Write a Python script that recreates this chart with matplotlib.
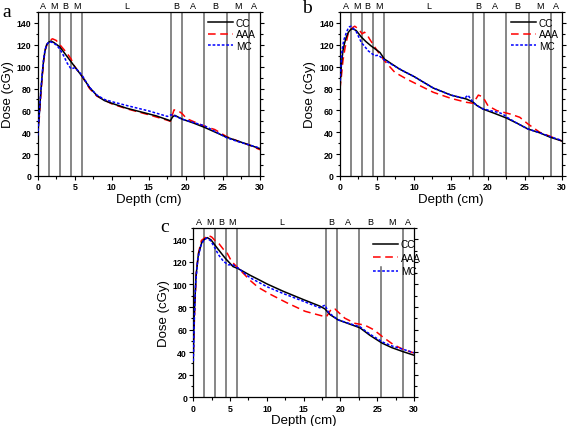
import matplotlib
matplotlib.use("Agg")
import matplotlib.pyplot as plt
from matplotlib.ticker import MultipleLocator
import matplotlib.transforms as mtransforms

# boundaries between the regions and their labels
boundaries = [1.5, 3.0, 4.5, 6.0, 18.0, 19.5, 22.5, 25.5, 28.5]
region_pos = [0.75, 2.25, 3.75, 5.25, 12.0, 18.75, 21.0, 24.0, 27.0, 29.25]
region_lab = ['A', 'M', 'B', 'M', 'L', 'B', 'A', 'B', 'M', 'A']

# panel a
a_cc_depth = [0, 0.2, 0.4, 0.6, 0.8, 1.0, 1.2, 1.5, 1.8, 2.2, 3.0, 4.0, 5.0, 6.0, 7.0, 8.0, 9.0, 10,
              12, 14, 16, 17.5, 17.9, 18.2, 18.5, 19.5, 21, 22.5, 24, 25.5, 27, 28.5, 30]
a_cc_dose = [37, 55, 75, 92, 106, 115, 120, 122.5, 123.5, 122, 118, 109, 100, 91, 81, 73.5, 69, 66.5,
             62, 58.5, 55, 51.5, 50.5, 54, 55.5, 52, 48.5, 44.5, 40, 35.5, 32, 28.5, 25]
a_aaa_depth = [0, 0.2, 0.4, 0.6, 0.8, 1.0, 1.3, 1.6, 2.0, 2.5, 3.0, 3.5, 4.0, 4.5, 5.0, 6.0, 7.0, 8.0,
               10, 12, 15, 17.5, 17.9, 18.4, 19.0, 19.5, 20.1, 22.5, 23.9, 25.5, 27, 28.5, 30]
a_aaa_dose = [37, 52, 72, 90, 105, 115, 121, 124, 125.5, 124, 120, 116, 112, 107, 100, 91, 80, 73,
              66, 61.5, 56, 51, 50, 60.5, 59.5, 57, 52.5, 45.5, 42.5, 36, 32, 28.5, 24]
a_mc_depth = [0, 0.2, 0.4, 0.6, 0.8, 1.0, 1.3, 1.6, 2.0, 2.5, 3.0, 3.5, 4.0, 4.5, 5.0, 5.5, 6.0, 7.0,
              8.0, 9, 10, 12, 15, 17.5, 18.0, 18.5, 19.5, 21, 22.5, 24, 25.5, 27, 28.5, 30]
a_mc_dose = [37, 56, 76, 93, 107, 116, 121, 123, 122, 120, 116, 110, 103, 98, 99, 96, 92, 81,
             74, 70, 68, 64.5, 59.5, 54.5, 56, 55, 52, 49, 46, 40.5, 35, 31.5, 28.5, 25.5]

# panel b
b_cc_depth = [0, 0.2, 0.4, 0.6, 0.85, 1.1, 1.3, 1.55, 1.8, 2.2, 2.9, 3.5, 4.2, 4.8, 5.4, 6.0, 7.0,
              8.0, 8.7, 10, 12.6, 15, 17.1, 18, 18.5, 19.3, 21, 22.5, 24, 25.4, 27, 28.4, 30]
b_cc_dose = [81, 102.5, 114.6, 121, 127, 131, 133, 134.5, 134.5, 133, 127, 123, 119, 116, 113, 107,
             102.5, 98, 95.5, 91, 80.5, 74, 70.4, 67.5, 64.5, 61.3, 57, 53, 48, 43, 39.5, 35.5, 32]
b_aaa_depth = [0, 0.2, 0.4, 0.7, 1.1, 1.4, 1.75, 2.0, 2.5, 3.0, 3.3, 3.6, 4.0, 4.6, 5.2, 6.0, 7.4, 9.0,
               12.6, 15, 17.1, 18.0, 18.7, 19.3, 20.0, 21.2, 23.0, 24.3, 25.4, 27.0, 29.3, 30]
b_aaa_dose = [79.5, 91.8, 105.5, 117.7, 130, 133.5, 136, 137, 134.5, 130, 131.5, 130, 125.3, 119, 113,
              105.5, 94.9, 88.7, 76.6, 71, 67.4, 66.5, 74, 72.5, 64.3, 59.8, 56.7, 53.7, 47.6, 40, 33.9, 32]
b_mc_depth = [0, 0.27, 0.5, 0.85, 1.1, 1.3, 1.5, 1.8, 2.2, 2.9, 3.4, 3.8, 4.3, 4.7, 5.2, 6.0, 7, 8.7,
              10, 12.6, 15, 16.5, 17.0, 17.3, 17.6, 18.0, 18.5, 19.3, 20.5, 21.5, 22.0, 22.5, 24, 25.4,
              27, 28.4, 30]
b_mc_dose = [87, 114.6, 124, 131, 135, 136.6, 137, 135, 132, 122, 118, 114.6, 112, 110, 110.5, 106, 102,
             95.5, 91, 80.5, 74, 71.5, 72, 74, 71, 67.5, 64.5, 61.5, 59.5, 58, 56.7, 54, 48, 43,
             39.5, 36, 32.5]

# panel c
c_cc_depth = [0, 0.1, 0.37, 0.68, 1.14, 1.5, 1.9, 2.4, 3.2, 4.3, 5.4, 6.1, 7.7, 9.06, 10, 12.2, 15,
              17.2, 17.9, 18.6, 19.7, 21, 22.65, 24, 25.7, 27, 28.5, 30]
c_cc_dose = [38, 70, 108, 126.5, 137, 140, 141.5, 139.5, 132.6, 123.5, 115.8, 114, 108.2, 103.7, 100.5,
             94, 86.5, 80.8, 78.3, 73.2, 68.6, 65.5, 61.6, 55, 47.9, 44, 40.5, 37.3]
c_aaa_depth = [0, 0.2, 0.4, 0.7, 1.1, 1.5, 2.0, 2.5, 3.0, 3.5, 4.1, 4.5, 5.2, 6.0, 7.0, 7.7, 8.8, 10.4,
               12.7, 15.2, 17.4, 18.1, 18.8, 19.25, 20.6, 22.0, 23.3, 24.5, 25.8, 27.2, 28.5, 30]
c_aaa_dose = [40, 80, 110, 128, 139, 141, 143.5, 142, 138.5, 136, 131, 129, 120.4, 115, 108.5, 103.7,
              97.5, 91.5, 83.8, 76.2, 72.3, 71.4, 78.5, 78.3, 70.1, 65.5, 64, 60, 53.3, 46.7, 42.6, 39.3]
c_mc_depth = [0, 0.1, 0.3, 0.6, 1.0, 1.4, 1.8, 2.3, 2.8, 3.4, 4.1, 4.75, 5.4, 6.1, 7.7, 10, 12.2, 15,
              17.2, 17.9, 18.4, 19.7, 21, 22.65, 24, 25.8, 27, 28.5, 30]
c_mc_dose = [32, 62, 100, 122, 134, 139, 141, 139, 134, 126.5, 120.4, 117.4, 117.4, 114.4, 106, 98, 92,
             85, 79.3, 81.7, 75, 68.6, 65.8, 62.5, 56, 48.8, 45.5, 42.6, 39.5]

plt.rcParams['font.family'] = ['Liberation Sans', 'DejaVu Sans']

fig = plt.figure(figsize=(5.67, 4.27), dpi=100)

panels = [
    ('a', [0.0665, 0.5855, 0.392, 0.384], (0.766, 0.965), 0.15,
     (a_cc_depth, a_cc_dose), (a_aaa_depth, a_aaa_dose), (a_mc_depth, a_mc_dose), (0.004, 0.99)),
    ('b', [0.5996, 0.5855, 0.3915, 0.384], (0.770, 0.965), 0.15,
     (b_cc_depth, b_cc_dose), (b_aaa_depth, b_aaa_dose), (b_mc_depth, b_mc_dose), (0.533, 1.0)),
    ('c', [0.341, 0.0672, 0.389, 0.3965], (0.814, 0.935), 0.35,
     (c_cc_depth, c_cc_dose), (c_aaa_depth, c_aaa_dose), (c_mc_depth, c_mc_dose), (0.283, 0.488)),
]

for letter, rect, leg_pos, leg_space, cc, aaa, mc, let_pos in panels:
    ax = fig.add_axes(rect)
    for b in boundaries:
        # in panel c the line under the legend handles starts below the legend
        top = 0.77 if (letter == 'c' and b == 25.5) else 1
        ax.axvline(b, ymax=top, color='0.4', lw=1.1, zorder=1)
    ax.plot(cc[0], cc[1], color='black', lw=1.1, label='CC', zorder=3)
    ax.plot(aaa[0], aaa[1], color='red', lw=1.1, dashes=(5, 3), label='AAA', zorder=2)
    ax.plot(mc[0], mc[1], color='blue', lw=1.1, dashes=(1.8, 1.2), label='MC', zorder=4)

    ax.set_xlim(0, 30)
    ax.set_ylim(0, 150)
    ax.xaxis.set_major_locator(MultipleLocator(5))
    ax.xaxis.set_minor_locator(MultipleLocator(2.5))
    ax.yaxis.set_major_locator(MultipleLocator(20))
    ax.yaxis.set_minor_locator(MultipleLocator(10))
    ax.tick_params(which='both', direction='out', right=True, top=False, width=0.8)
    ax.tick_params(which='major', length=3, labelsize=6.3, pad=1.5)
    ax.tick_params(which='minor', length=1.8)
    for lab in ax.get_xticklabels() + ax.get_yticklabels():
        lab.set_fontweight('bold')
    for s in ax.spines.values():
        s.set_linewidth(0.9)

    ax.set_xlabel('Depth (cm)', fontsize=9.5, labelpad=1)
    ax.set_ylabel('Dose (cGy)', fontsize=9.5, labelpad=2)

    trans = mtransforms.blended_transform_factory(ax.transData, ax.transAxes)
    for p, t in zip(region_pos, region_lab):
        ax.text(p, 1.01, t, transform=trans, ha='center', va='bottom', fontsize=6.5)

    ax.legend(loc='upper left', bbox_to_anchor=leg_pos, fontsize=7.2, frameon=False,
              borderpad=0, borderaxespad=0, labelspacing=leg_space, handlelength=2.5,
              handletextpad=0.3)

    fig.text(let_pos[0], let_pos[1], letter, fontsize=14, family=['Liberation Serif', 'DejaVu Serif'],
             ha='left', va='top')

fig.savefig('out.png', dpi=100)
